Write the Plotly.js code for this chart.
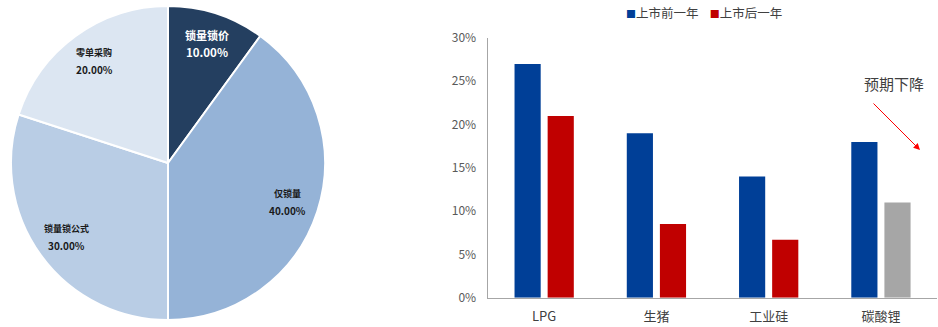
<!DOCTYPE html>
<html>
<head>
<meta charset="utf-8">
<script src="https://cdn.plot.ly/plotly-3.0.1.min.js"></script>
<style>
  html, body { margin: 0; padding: 0; background: #ffffff; }
  #chart { width: 938px; height: 327px; }
</style>
</head>
<body>
<div id="chart"></div>
<script>
// Pie: share of pricing modes
const pieLabels = ['锁量锁价', '仅锁量', '锁量锁公式', '零单采购'];
const pieValues = [10, 40, 30, 20];
const pieColors = ['#243F60', '#95B3D7', '#B9CDE5', '#DCE6F2'];
const pieTextColors = ['#ffffff', '#1a1a1a', '#1a1a1a', '#1a1a1a'];
const pieLabelSizes = [11, 9, 9, 9];
const piePctSizes = [11.5, 10, 10, 10];

// Bars: margin before / after listing
const categories = ['LPG', '生猪', '工业硅', '碳酸锂'];
const beforeListing = [27, 19, 14, 18];
const afterListing = [21, 8.5, 6.7, 11];
const beforeColor = '#003F97';
const afterColor = '#C00000';
const afterColors = [afterColor, afterColor, afterColor, '#A6A6A6'];
const seriesNames = ['上市前一年', '上市后一年'];
const yTicks = [0, 5, 10, 15, 20, 25, 30];
const noteText = '预期下降';

const font = '"Noto Sans CJK SC", "Microsoft YaHei", sans-serif';
const W = 938, H = 327;

// pie geometry (paper fractions)
const pieDomX = [0.0117, 0.3465];
const pieDomY = [0.0214, 0.9817];

const pie = {
  type: 'pie',
  labels: pieLabels,
  values: pieValues,
  sort: false,
  direction: 'clockwise',
  rotation: 0,
  marker: { colors: pieColors, line: { color: '#ffffff', width: 2 } },
  textinfo: 'none',
  hoverinfo: 'label+percent',
  showlegend: false,
  domain: { x: pieDomX, y: pieDomY }
};

// slice labels placed at each slice's mid-angle, about 4/5 of the radius out
const pieCx = (pieDomX[0] + pieDomX[1]) / 2 * W;
const pieCy = (1 - (pieDomY[0] + pieDomY[1]) / 2) * H;
const pieR = Math.min((pieDomX[1] - pieDomX[0]) * W, (pieDomY[1] - pieDomY[0]) * H) / 2;
const pieTotal = pieValues.reduce((a, b) => a + b, 0);
const pieAnnotations = [];
let cum = 0;
pieValues.forEach((v, i) => {
  const mid = (cum + v / 2) / pieTotal * 2 * Math.PI;
  cum += v;
  const px = pieCx + 0.8 * pieR * Math.sin(mid);
  const py = pieCy - 0.8 * pieR * Math.cos(mid);
  const pct = (v / pieTotal * 100).toFixed(2) + '%';
  pieAnnotations.push({
    xref: 'paper', yref: 'paper', x: px / W, y: 1 - (py - 8.5) / H,
    xanchor: 'center', yanchor: 'middle', showarrow: false,
    text: '<b>' + pieLabels[i] + '</b>',
    font: { family: font, size: pieLabelSizes[i], color: pieTextColors[i] }
  });
  pieAnnotations.push({
    xref: 'paper', yref: 'paper', x: px / W, y: 1 - (py + 8.5) / H,
    xanchor: 'center', yanchor: 'middle', showarrow: false,
    text: '<b>' + pct + '</b>',
    font: { family: font, size: piePctSizes[i], color: pieTextColors[i] }
  });
});

const barBefore = {
  type: 'bar',
  name: seriesNames[0],
  x: categories,
  y: beforeListing,
  marker: { color: beforeColor },
  xaxis: 'x', yaxis: 'y'
};
const barAfter = {
  type: 'bar',
  name: seriesNames[1],
  x: categories,
  y: afterListing,
  marker: { color: afterColors },
  xaxis: 'x', yaxis: 'y'
};

// compact legend line: small coloured squares followed by series names
const swatch = c => '<span style="color:' + c + ';font-size:10px">■</span>';
const legendText = swatch(beforeColor) + seriesNames[0] + '    ' + swatch(afterColor) + seriesNames[1];

const layout = {
  width: W,
  height: H,
  margin: { l: 0, r: 0, t: 0, b: 0 },
  paper_bgcolor: '#ffffff',
  plot_bgcolor: '#ffffff',
  font: { family: font, color: '#404040' },
  barmode: 'group',
  bargap: 0.41,
  bargroupgap: 0.21,
  showlegend: false,
  xaxis: {
    domain: [0.5203, 0.999],
    showline: true,
    linecolor: '#A6A6A6',
    linewidth: 1.5,
    ticks: '',
    showgrid: false,
    ticklabelstandoff: 6,
    tickfont: { family: font, size: 13, color: '#404040' },
    fixedrange: true
  },
  yaxis: {
    domain: [0.0896, 0.8838],
    range: [0, 30],
    tickvals: yTicks,
    ticktext: yTicks.map(v => v + '%'),
    showline: true,
    linecolor: '#A6A6A6',
    linewidth: 1.5,
    ticks: '',
    showgrid: false,
    zeroline: false,
    ticklabelstandoff: 8,
    tickfont: { family: font, size: 12, color: '#595959' },
    fixedrange: true
  },
  annotations: pieAnnotations.concat([
    {
      xref: 'paper', yref: 'paper',
      x: 703.5 / W, y: 1 - 12 / H,
      xanchor: 'center', yanchor: 'middle',
      text: legendText,
      showarrow: false,
      font: { family: font, size: 12.5, color: '#404040' }
    },
    {
      xref: 'paper', yref: 'paper',
      x: 894 / W, y: 1 - 83 / H,
      xanchor: 'center', yanchor: 'middle',
      text: noteText,
      showarrow: false,
      font: { family: font, size: 15, color: '#404040' }
    },
    {
      xref: 'paper', yref: 'paper',
      x: 920 / W, y: 1 - 150 / H,
      ax: 872 / W, ay: 1 - 102 / H,
      axref: 'paper', ayref: 'paper',
      text: '',
      showarrow: true,
      arrowhead: 2,
      arrowsize: 1.3,
      arrowwidth: 1,
      arrowcolor: '#FF0000'
    }
  ])
};

Plotly.newPlot('chart', [pie, barBefore, barAfter], layout, { displayModeBar: false, staticPlot: true });
</script>
</body>
</html>
